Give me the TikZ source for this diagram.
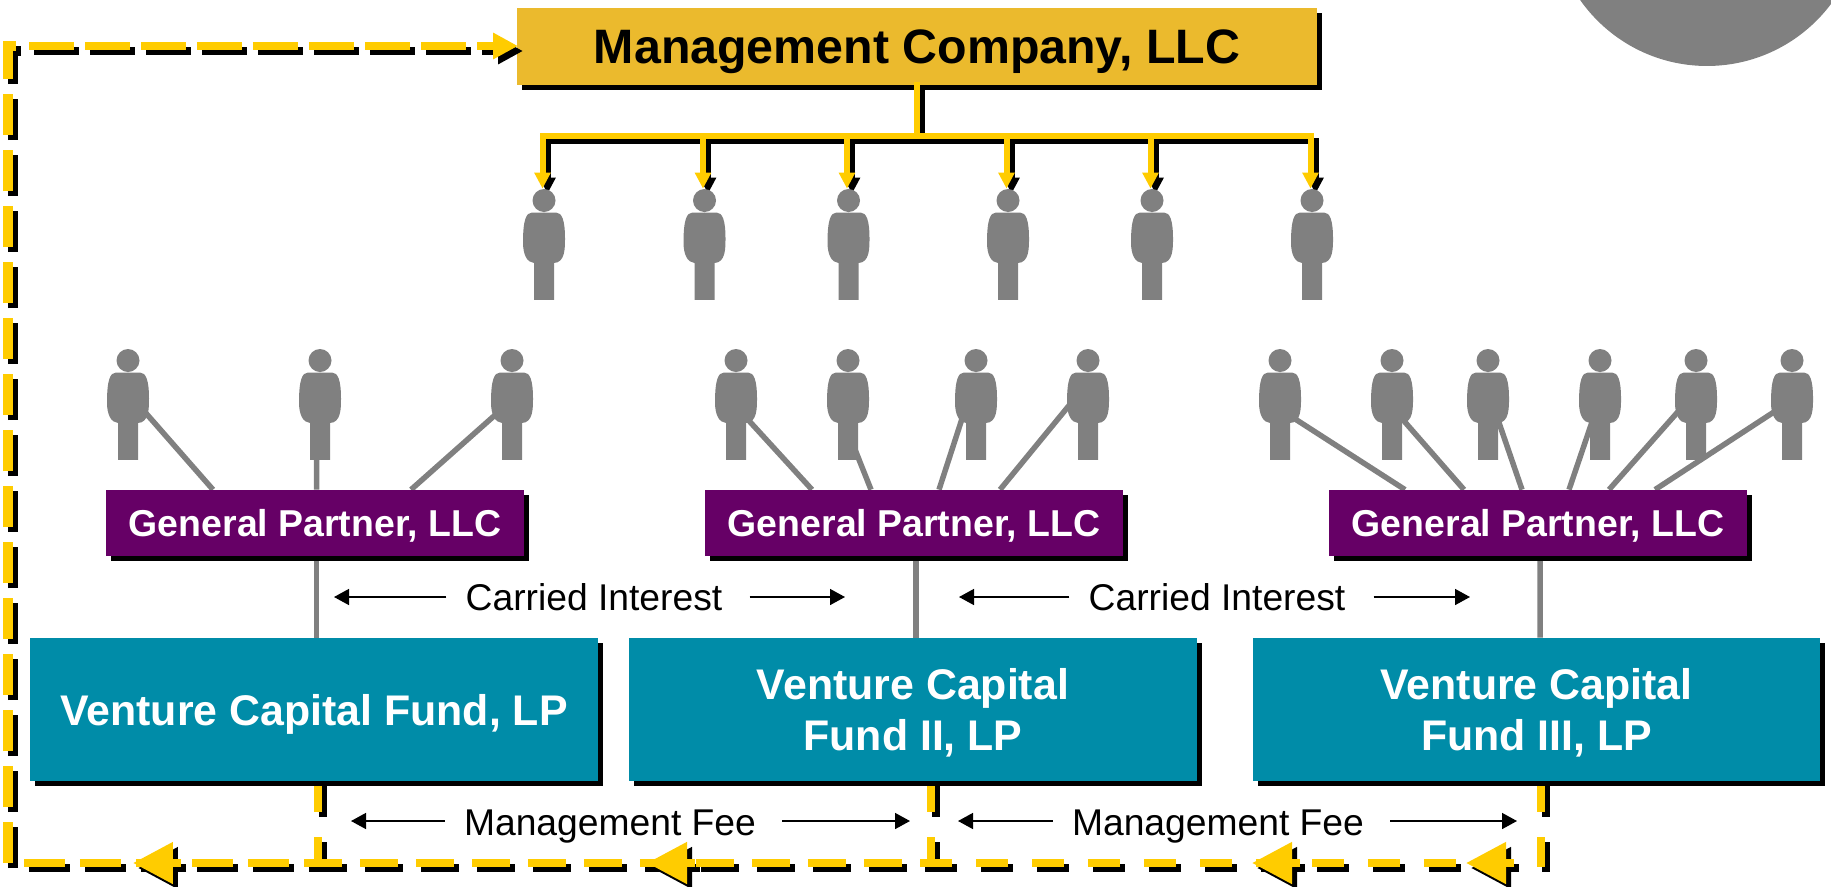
\documentclass[tikz,border=0pt]{standalone}
\usepackage{fontspec}
\setmainfont{Liberation Sans}
\usepackage{tikz}
\usetikzlibrary{arrows.meta}
\usetikzlibrary{calc}
\usetikzlibrary{shadows}
\usetikzlibrary{backgrounds}
\definecolor{mcgold}{HTML}{EBBA2D}
\definecolor{flowyellow}{HTML}{FFCC00}
\definecolor{gppurple}{HTML}{660066}
\definecolor{fundteal}{HTML}{008CA8}
\definecolor{mangray}{HTML}{808080}

\begin{document}
\begin{tikzpicture}[
  x=0.02cm,y=-0.02cm,
  boxshadow/.style={general shadow={fill=black,shadow xshift=0.1cm,shadow yshift=-0.1cm}},
  mcbox/.style={rectangle,fill=mcgold,boxshadow,inner sep=0pt,minimum width=16cm,minimum height=1.54cm,text depth=0pt,font=\fontsize{27.5}{32}\selectfont\bfseries},
  gpbox/.style={rectangle,fill=gppurple,boxshadow,text=white,inner sep=0pt,minimum width=8.36cm,minimum height=1.32cm,text depth=-0.5pt,font=\fontsize{21.3}{25}\selectfont\bfseries},
  fundbox/.style={rectangle,fill=fundteal,boxshadow,text=white,inner sep=0pt,minimum width=11.36cm,minimum height=2.86cm,align=center,text depth=-1pt,font=\fontsize{24.4}{29}\selectfont\bfseries},
  note/.style={rectangle,inner ysep=0pt,inner xsep=0.38cm,anchor=base,font=\fontsize{21.2}{25}\selectfont},
  notearrow/.style={-{Triangle[length=0.3cm,width=0.32cm]},line width=0.03cm,black},
  link/.style={mangray,line width=0.11cm},
  tree/.style={line width=0.12cm,line cap=rect},
  treearrow/.style={line width=0.12cm,-{Triangle[length=0.32cm,width=0.31cm]}},
  flow/.style={line width=0.16cm},
  person/.style={rectangle,inner sep=0pt,minimum width=0.86cm,minimum height=2.22cm,
    path picture={
      \fill[mangray,shift={(path picture bounding box.center)}]
        (0,-44) circle [radius=11.5]
        (-12,-32) -- (12,-32) .. controls (18,-32) and (21,-24) .. (21,-6)
        .. controls (21,4) and (21,18) .. (10,18.5) -- (10,55.5) -- (-10,55.5) -- (-10,18.5)
        .. controls (-17,18) and (-21,10) .. (-21,-2)
        .. controls (-21,-24) and (-18,-32) .. (-12,-32) -- cycle;
    }}]

  \useasboundingbox (0,0) rectangle (1831,886);
  \clip (0,0) rectangle (1831,886);

  \node [circle,fill=mangray,inner sep=0pt,minimum size=6.2cm] (corner) at (1707,-89) {};

  \node [person] (mp1) at (544,244.5) {};
  \node [person] (mp2) at (704.5,244.5) {};
  \node [person] (mp3) at (848.5,244.5) {};
  \node [person] (mp4) at (1008,244.5) {};
  \node [person] (mp5) at (1152,244.5) {};
  \node [person] (mp6) at (1312,244.5) {};

  \node [person] (a1) at (128,404.5) {};
  \node [person] (a2) at (320,404.5) {};
  \node [person] (a3) at (512,404.5) {};

  \node [person] (b1) at (736,404.5) {};
  \node [person] (b2) at (848,404.5) {};
  \node [person] (b3) at (976,404.5) {};
  \node [person] (b4) at (1088,404.5) {};

  \node [person] (c1) at (1280,404.5) {};
  \node [person] (c2) at (1392,404.5) {};
  \node [person] (c3) at (1488,404.5) {};
  \node [person] (c4) at (1600,404.5) {};
  \node [person] (c5) at (1696,404.5) {};
  \node [person] (c6) at (1792,404.5) {};

  \node [gpbox] (gp1) at (315,523) {General Partner, LLC};
  \node [gpbox] (gp2) at (914,523) {General Partner, LLC};
  \node [gpbox] (gp3) at (1538,523) {General Partner, LLC};

  \node [fundbox] (fund1) at (314,709.5) {Venture Capital Fund, LP};
  \node [fundbox] (fund2) at (913,709.5) {Venture Capital\\Fund II, LP};
  \node [fundbox] (fund3) at (1536.5,709.5) {Venture Capital\\Fund III, LP};

  \node [note] (ci1) at (594,610) {Carried Interest};
  \node [note] (ci2) at (1217,610) {Carried Interest};
  \node [note] (mf1) at (610,835) {Management Fee};
  \node [note] (mf2) at (1218,835) {Management Fee};

  \coordinate (ci1l) at (334,597);
  \coordinate (ci1r) at (845,597);
  \coordinate (ci2l) at (959,597);
  \coordinate (ci2r) at (1470,597);
  \coordinate (mf1l) at (351,821);
  \coordinate (mf1r) at (910,821);
  \coordinate (mf2l) at (958,821);
  \coordinate (mf2r) at (1517,821);

  \draw [notearrow] (ci1.west |- ci1l) -- (ci1l);
  \draw [notearrow] ($(ci1.east |- ci1r)+(8,0)$) -- (ci1r);
  \draw [notearrow] (ci2.west |- ci2l) -- (ci2l);
  \draw [notearrow] ($(ci2.east |- ci2r)+(9,0)$) -- (ci2r);
  \draw [notearrow] (mf1.west |- mf1l) -- (mf1l);
  \draw [notearrow] ($(mf1.east |- mf1r)+(7,0)$) -- (mf1r);
  \draw [notearrow] (mf2.west |- mf2l) -- (mf2l);
  \draw [notearrow] ($(mf2.east |- mf2r)+(7,0)$) -- (mf2r);

  \begin{scope}[on background layer]
    \draw [link] ($(a1)+(9,-1.5)$) -- ($(gp1.north)+(-102,0)$);
    \draw [link] ($(a2)+(-3.5,45)$) -- ($(gp1.north)+(1.5,0)$);
    \draw [link] ($(a3)+(-9,3.5)$) -- ($(gp1.north)+(96,0)$);

    \draw [link] ($(b1)+(5,7.5)$) -- ($(gp2.north)+(-102,0)$);
    \draw [link] ($(b2)+(5,40)$) -- ($(gp2.north)+(-43,0)$);
    \draw [link] ($(b3)+(-11,5)$) -- ($(gp2.north)+(25,0)$);
    \draw [link] ($(b4)+(-12,-7.5)$) -- ($(gp2.north)+(86,0)$);

    \draw [link] ($(c1)+(5,8)$) -- ($(gp3.north)+(-133,0)$);
    \draw [link] ($(c2)+(5,8.5)$) -- ($(gp3.north)+(-74,0)$);
    \draw [link] ($(c3)+(8,9.5)$) -- ($(gp3.north)+(-16,0)$);
    \draw [link] ($(c4)+(-7,14.5)$) -- ($(gp3.north)+(31,0)$);
    \draw [link] ($(c5)+(-13,1.5)$) -- ($(gp3.north)+(71,0)$);
    \draw [link] ($(c6)+(-12,3.5)$) -- ($(gp3.north)+(117,0)$);

    \draw [link] ($(gp1.south)+(1.5,0)$) -- ($(fund1.north)+(2.5,0)$);
    \draw [link] ($(gp2.south)+(2,0)$) -- ($(fund2.north)+(3,0)$);
    \draw [link] ($(gp3.south)+(2,0)$) -- ($(fund3.north)+(3.5,0)$);

    \node [mcbox] (mc) at (917,46.5) {Management Company, LLC};

    \coordinate (bar) at (917,136);
    \coordinate (fee1) at (318,781);
    \coordinate (fee2) at (931,781);
    \coordinate (fee3) at (1540.5,781);
    \coordinate (rail) at (8,863);
    \coordinate (corn) at (8,46);
    \coordinate (fa1) at (133,863);
    \coordinate (fa2) at (647,863);
    \coordinate (fa3) at (1252,863);
    \coordinate (fa4) at (1466,863);
    \coordinate (fa5) at (518,46);

    \foreach \off/\col in {0.1/black,0/flowyellow}{
      \begin{scope}[color=\col,transform canvas={xshift=\off cm,yshift=-\off cm}]
        \draw [tree] (mc.south) -- (bar);
        \draw [tree] ([xshift=-0.03cm]mp1.north |- bar) -- ([xshift=-0.03cm]mp6.north |- bar);
        \foreach \n in {mp1,mp2,mp3,mp4,mp5,mp6}
          \draw [treearrow] ([xshift=-0.03cm]\n.north |- bar) -- ([xshift=-0.03cm]\n.north);

        \draw [flow,dash pattern=on 0.62cm off 0.5cm] (fee1) -- (fee1 |- 0,867);
        \draw [flow,dash pattern=on 0.62cm off 0.5cm] (fee2) -- (fee2 |- 0,867);
        \draw [flow,dash pattern=on 0.62cm off 0.5cm] (fee3) -- (fee3 |- 0,867);

        \draw [flow,dash pattern=on 0.82cm off 0.3cm] ($(rail)+(16,0)$) -- ($(rail)+(281,0)$);
        \draw [flow,dash pattern=on 0.76cm off 0.36cm] ($(rail)+(296,0)$) -- ($(rail)+(894,0)$);
        \draw [flow,dash pattern=on 0.64cm off 0.48cm] ($(rail)+(912,0)$) -- ($(rail)+(1505,0)$);
        \draw [flow,line width=0.19cm,dash pattern=on 0.82cm off 0.3cm] (rail) -- (corn) -- ($(corn)+(8,0)$);
        \draw [flow,dash pattern=on 0.9cm off 0.22cm] ($(corn)+(21,0)$) -- ($(corn)+(462,0)$);

        \foreach \n in {fa1,fa2,fa3,fa4}
          \draw [flow,-{Triangle[length=0.8cm,width=0.8cm]}] ($(\n)+(48,0)$) -- (\n);
        \draw [flow,-{Triangle[length=0.5cm,width=0.5cm]}] ($(fa5)+(-41,0)$) -- (fa5);
      \end{scope}
    }
  \end{scope}
\end{tikzpicture}
\end{document}
